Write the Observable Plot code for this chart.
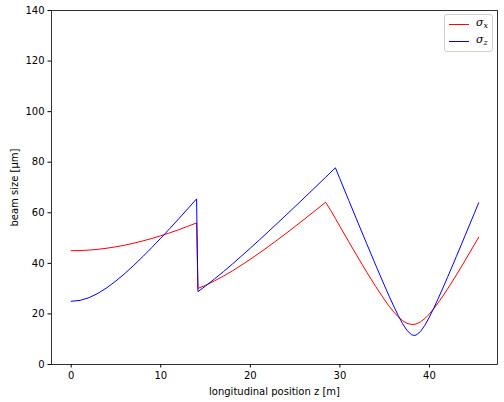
<!DOCTYPE html>
<html>
<head>
<meta charset="utf-8">
<script src="https://cdn.jsdelivr.net/npm/d3@7"></script>
<script src="https://cdn.jsdelivr.net/npm/@observablehq/plot@0.6"></script>
<style>
  html, body { margin: 0; padding: 0; background: #fff; }
  #wrap { position: relative; width: 504px; height: 402px; font-family: "DejaVu Sans", sans-serif; }
  #legend {
    position: absolute; left: 444px; top: 14px; width: 49px; height: 38px;
    border: 1px solid #d0d0d0; border-radius: 3px; background: rgba(255,255,255,0.8);
    box-sizing: border-box; font-size: 10px; color: #000;
  }
  .row { position: absolute; left: 4px; height: 12px; display: flex; align-items: center; }
  .sw { width: 20px; height: 0; border-top: 1px solid; margin-right: 7px; }
  .lab { font-family: "DejaVu Serif", serif; font-style: italic; font-size: 11px; line-height: 10px; }
  .lab sub { font-size: 8px; vertical-align: -2px; }
</style>
</head>
<body>
<div id="wrap">
  <div id="chart"></div>
  <div id="legend">
    <div class="row" style="top:3px"><span class="sw" style="border-color:red"></span><span class="lab">σ<sub>x</sub></span></div>
    <div class="row" style="top:20px"><span class="sw" style="border-color:blue"></span><span class="lab">σ<sub>z</sub></span></div>
  </div>
</div>
<script>
// longitudinal position z [m]
const z = [0,1,2,3,4,5,6,7,8,9,10,11,12,13,14,14.15,15,16,17,18,19,20,21,22,23,24,25,26,27,28,28.4,29,29.5,30,31,32,33,34,35,35.5,36,36.5,37,37.5,38,38.3,38.5,39,39.5,40,40.5,41,41.5,42,43,44,45,45.5];
// beam size sigma_x [um]
const sigmaX = [45.0,45.06,45.25,45.56,46.0,46.55,47.21,47.99,48.87,49.84,50.91,52.07,53.31,54.62,56.0,30.07,31.34,33.05,34.96,37.04,39.27,41.62,44.07,46.6,49.21,51.88,54.61,57.38,60.18,63.02,64.17,60.85,57.74,54.64,48.5,42.45,36.53,30.84,25.51,23.06,20.83,18.89,17.33,16.28,15.82,15.86,16.02,16.85,18.21,20.01,22.14,24.51,27.06,29.74,35.37,41.25,47.28,50.33];
// beam size sigma_z [um]
const sigmaZ = [25.0,25.37,26.45,28.17,30.4,33.05,36.03,39.26,42.68,46.26,49.95,53.74,57.6,61.53,65.5,28.81,31.04,33.82,36.73,39.75,42.85,46.02,49.24,52.5,55.8,59.13,62.48,65.85,69.25,72.65,74.02,76.08,77.79,73.45,64.83,56.25,47.73,39.3,31.05,27.04,23.16,19.48,16.16,13.45,11.79,11.49,11.62,13.02,15.56,18.78,22.4,26.25,30.24,34.32,42.66,51.13,59.68,63.97];

const xTicks = [0, 10, 20, 30, 40];
const yTicks = [0, 20, 40, 60, 80, 100, 120, 140];

const rows = z.map((v, i) => ({z: v, sx: sigmaX[i], sz: sigmaZ[i]}));

const chart = Plot.plot({
  width: 504,
  height: 402,
  marginLeft: 51,
  marginRight: 7,
  marginTop: 10,
  marginBottom: 38,
  style: {fontFamily: "DejaVu Sans, sans-serif", fontSize: "10px", color: "#000", background: "#fff"},
  x: {domain: [-2.2, 47.6], ticks: xTicks, tickSize: 3.5, tickPadding: 3.5,
      label: "longitudinal position z [m]", labelAnchor: "center", labelArrow: "none", labelOffset: 30},
  y: {domain: [0, 140], ticks: yTicks, tickSize: 3.5, tickPadding: 3.5,
      label: "beam size [μm]", labelAnchor: "center", labelArrow: "none", labelOffset: 41},
  marks: [
    Plot.line(rows, {x: "z", y: "sx", stroke: "red", strokeWidth: 1}),
    Plot.line(rows, {x: "z", y: "sz", stroke: "blue", strokeWidth: 1}),
    Plot.frame({stroke: "#000", strokeWidth: 0.8})
  ]
});
document.getElementById("chart").appendChild(chart);
</script>
</body>
</html>
